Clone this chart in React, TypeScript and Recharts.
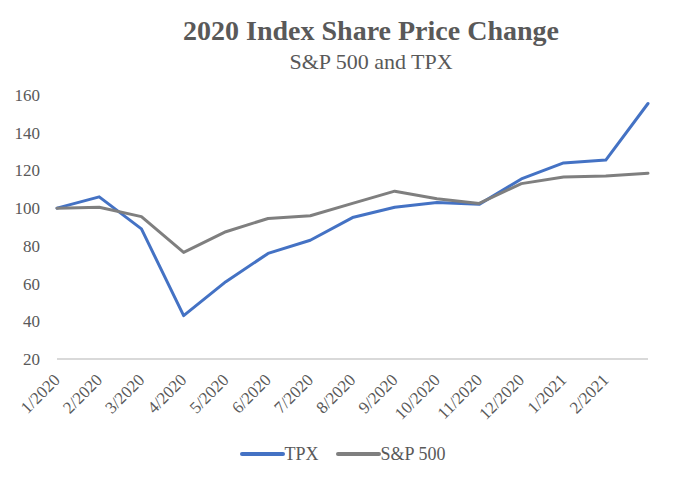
import React from 'react';
import { LineChart, Line, XAxis, YAxis, Legend } from 'recharts';

const months = [
  '1/2020', '2/2020', '3/2020', '4/2020', '5/2020', '6/2020', '7/2020', '8/2020',
  '9/2020', '10/2020', '11/2020', '12/2020', '1/2021', '2/2021', '3/2021',
];
// Excel only printed 14 of the 15 month labels
const tickLabels = [
  '1/2020', '2/2020', '3/2020', '4/2020', '5/2020', '6/2020', '7/2020', '8/2020',
  '9/2020', '10/2020', '11/2020', '12/2020', '1/2021', '2/2021',
];
const tpx = [100, 106, 89, 43, 61, 76, 83, 95, 100.5, 103, 102, 115.5, 124, 125.5, 155.5];
const sp500 = [100, 100.5, 95.5, 76.5, 87.5, 94.5, 96, 102.5, 109, 105, 102.5, 113, 116.5, 117, 118.5];
const yTicks = [20, 40, 60, 80, 100, 120, 140, 160];
const seriesOrder = ['TPX', 'S&P 500'];

const data = months.map((m, i) => ({ month: m, tpx: tpx[i], sp500: sp500[i] }));

const FONT = 'Liberation Serif, Times New Roman, serif';
const TEXT = '#595959';

const AngledTick = (props: any) => {
  const { x, y, payload } = props;
  const ax = x + 4;
  return (
    <text
      x={ax}
      y={y}
      transform={`rotate(-45 ${ax} ${y})`}
      textAnchor="end"
      fill={TEXT}
      style={{ fontFamily: FONT, fontSize: 17 }}
    >
      {payload.value}
    </text>
  );
};

const LegendContent = (props: any) => {
  const items = [...(props.payload || [])].sort(
    (a: any, b: any) => seriesOrder.indexOf(a.value) - seriesOrder.indexOf(b.value)
  );
  return (
    <div style={{ display: 'flex', justifyContent: 'center', paddingLeft: 37, fontFamily: FONT, fontSize: 18, color: TEXT }}>
      {items.map((item: any, i: number) => (
        <div key={`leg-${i}`} style={{ display: 'flex', alignItems: 'center', marginLeft: i > 0 ? 17 : 0 }}>
          <svg width={45} height={20}>
            <line x1={2} y1={10} x2={43} y2={10} stroke={item.color} strokeWidth={4} strokeLinecap="round" />
          </svg>
          <span style={{ lineHeight: '20px', fontFamily: FONT }}>{item.value}</span>
        </div>
      ))}
    </div>
  );
};

export default function App() {
  return (
    <div style={{ position: 'absolute', left: 0, top: 0, width: 679, height: 479, background: '#fff', fontFamily: FONT }}>
      <div
        style={{
          position: 'absolute', left: 121, width: 500, top: 17, textAlign: 'center',
          fontFamily: FONT, fontWeight: 'bold', fontSize: 28, lineHeight: 1, color: TEXT,
        }}
      >
        2020 Index Share Price Change
      </div>
      <div
        style={{
          position: 'absolute', left: 121, width: 500, top: 51, textAlign: 'center',
          fontFamily: FONT, fontSize: 22, lineHeight: 1, color: TEXT,
        }}
      >
        S&amp;P 500 and TPX
      </div>
      <LineChart width={679} height={479} data={data} margin={{ top: 95, right: 31, left: 0, bottom: 15 }}>
        <XAxis
          dataKey="month"
          ticks={tickLabels}
          interval={0}
          tick={<AngledTick />}
          tickLine={false}
          tickSize={0}
          tickMargin={22}
          height={85}
          axisLine={{ stroke: '#d9d9d9', strokeWidth: 2 }}
        />
        <YAxis
          domain={[20, 160]}
          ticks={yTicks}
          width={57}
          axisLine={false}
          tickLine={false}
          tickSize={0}
          tickMargin={17}
          tick={{ fill: TEXT, fontSize: 17, style: { fontFamily: FONT } }}
        />
        <Legend verticalAlign="bottom" height={20} content={<LegendContent />} />
        <Line
          type="linear"
          dataKey="tpx"
          name="TPX"
          stroke="#4472c4"
          strokeWidth={3}
          strokeLinejoin="round"
          strokeLinecap="round"
          dot={false}
          isAnimationActive={false}
        />
        <Line
          type="linear"
          dataKey="sp500"
          name="S&P 500"
          stroke="#7f7f7f"
          strokeWidth={3}
          strokeLinejoin="round"
          strokeLinecap="round"
          dot={false}
          isAnimationActive={false}
        />
      </LineChart>
    </div>
  );
}
